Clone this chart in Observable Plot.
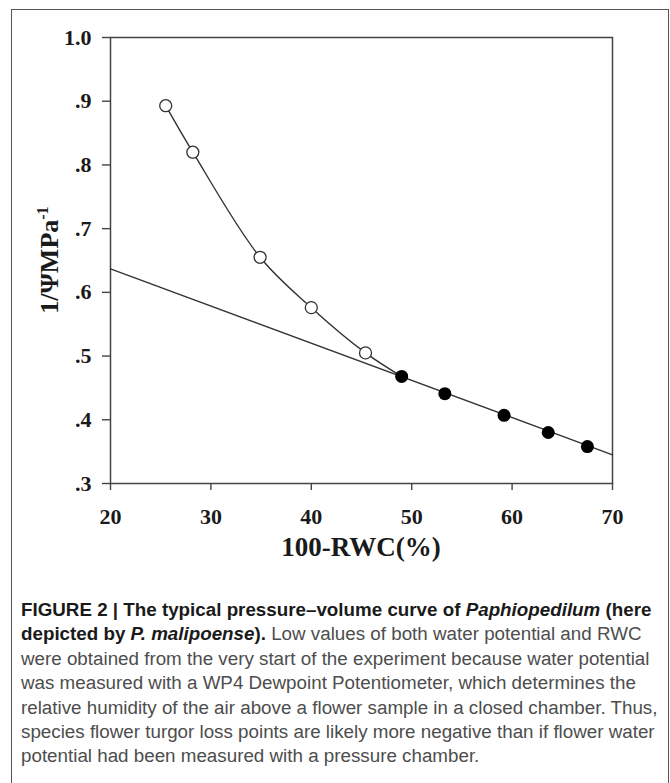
<!DOCTYPE html>
<html><head><meta charset="utf-8">
<script src="https://cdn.jsdelivr.net/npm/d3@7"></script>
<script src="https://cdn.jsdelivr.net/npm/@observablehq/plot@0.6"></script>
<style>
html,body{margin:0;padding:0;background:#fff}
body{width:670px;height:783px;overflow:hidden;position:relative}
#frame{position:absolute;left:11px;top:9px;width:658px;height:820px;border:1.5px solid #555;box-sizing:border-box}
#chart{position:absolute;left:0;top:0}
#caption{position:absolute;left:21px;top:598px;font-family:"Liberation Sans",Arial,sans-serif;font-size:18.8px;line-height:24.4px;color:#4d4d4d;white-space:nowrap}
#caption b{color:#1a1a1a}
</style></head><body>
<div id="frame"></div>
<div id="chart"></div>
<div id="caption">
<div><b>FIGURE 2 | The typical pressure–volume curve of <i>Paphiopedilum</i> (here</b></div>
<div><b>depicted by <i>P. malipoense</i>).</b> Low values of both water potential and RWC</div>
<div>were obtained from the very start of the experiment because water potential</div>
<div>was measured with a WP4 Dewpoint Potentiometer, which determines the</div>
<div>relative humidity of the air above a flower sample in a closed chamber. Thus,</div>
<div>species flower turgor loss points are likely more negative than if flower water</div>
<div>potential had been measured with a pressure chamber.</div>
</div>
<script>
const xTicks = [20, 30, 40, 50, 60, 70];
const xTickLabels = ["20", "30", "40", "50", "60", "70"];
const yTicks = [0.3, 0.4, 0.5, 0.6, 0.7, 0.8, 0.9, 1.0];
const yTickLabels = [".3", ".4", ".5", ".6", ".7", ".8", ".9", "1.0"];
const xTitle = "100-RWC(%)";
const yTitle = "1/ΨMPa";
const yTitleSup = "-1";

// open circles (above turgor loss point)
const openX = [25.5, 28.2, 34.9, 40.0, 45.4];
const openY = [0.893, 0.820, 0.655, 0.576, 0.505];
// filled circles (linear region)
const filledX = [49.0, 53.3, 59.2, 63.6, 67.5];
const filledY = [0.468, 0.441, 0.407, 0.380, 0.358];
// regression line endpoints
const fitX = [20, 70];
const fitY = [0.637, 0.345];

const openData = openX.map((x, i) => ({x, y: openY[i]}));
const filledData = filledX.map((x, i) => ({x, y: filledY[i]}));
const curveData = [...openData, filledData[0]];
const fitData = fitX.map((x, i) => ({x, y: fitY[i]}));

const W = 670, H = 590, ML = 110, MR = 58, MT = 37, MB = 107;
const lab = (ticks, labels) => d => labels[ticks.findIndex(t => Math.abs(t - d) < 1e-9)];

const chart = Plot.plot({
  width: W, height: H,
  marginLeft: ML, marginRight: MR, marginTop: MT, marginBottom: MB,
  x: {domain: [20, 70], label: null},
  y: {domain: [0.3, 1.0], label: null},
  style: {fontFamily: "'Liberation Serif','Times New Roman',serif", fontSize: "22px", fontWeight: "bold", color: "#1a1a1a", background: "transparent"},
  marks: [
    Plot.axisX({ticks: xTicks, tickFormat: lab(xTicks, xTickLabels), tickSize: 7, tickPadding: 18, stroke: "#444", strokeWidth: 1.4, label: null, fontSize: 22, fontWeight: "bold"}),
    Plot.axisY({ticks: yTicks, tickFormat: lab(yTicks, yTickLabels), tickSize: 8, tickPadding: 11, stroke: "#444", strokeWidth: 1.4, label: null, fontSize: 22, fontWeight: "bold"}),
    Plot.frame({stroke: "#444", strokeWidth: 1.5}),
    Plot.line(fitData, {x: "x", y: "y", stroke: "#333", strokeWidth: 1.4}),
    Plot.line(curveData, {x: "x", y: "y", curve: "catmull-rom", stroke: "#333", strokeWidth: 1.4}),
    Plot.dot(openData, {x: "x", y: "y", r: 6, fill: "white", stroke: "#333", strokeWidth: 1.3}),
    Plot.dot(filledData, {x: "x", y: "y", r: 6.5, fill: "#000", stroke: "none"})
  ]
});
document.getElementById("chart").appendChild(chart);

const svg = d3.select(chart);
const cx = (ML + (W - MR)) / 2, cy = (MT + (H - MB)) / 2;
svg.append("text")
  .attr("x", cx).attr("y", 556)
  .attr("text-anchor", "middle")
  .attr("font-family", "'Liberation Serif','Times New Roman',serif")
  .attr("font-weight", "bold").attr("font-size", 27).attr("fill", "#1a1a1a")
  .text(xTitle);
const yt = svg.append("text")
  .attr("transform", `translate(58,${cy}) rotate(-90)`)
  .attr("text-anchor", "middle")
  .attr("font-family", "'Liberation Serif','Times New Roman',serif")
  .attr("font-weight", "bold").attr("font-size", 26).attr("fill", "#1a1a1a");
yt.append("tspan").text(yTitle);
yt.append("tspan").attr("font-size", 16).attr("dy", -10).text(yTitleSup);
</script>
</body></html>
